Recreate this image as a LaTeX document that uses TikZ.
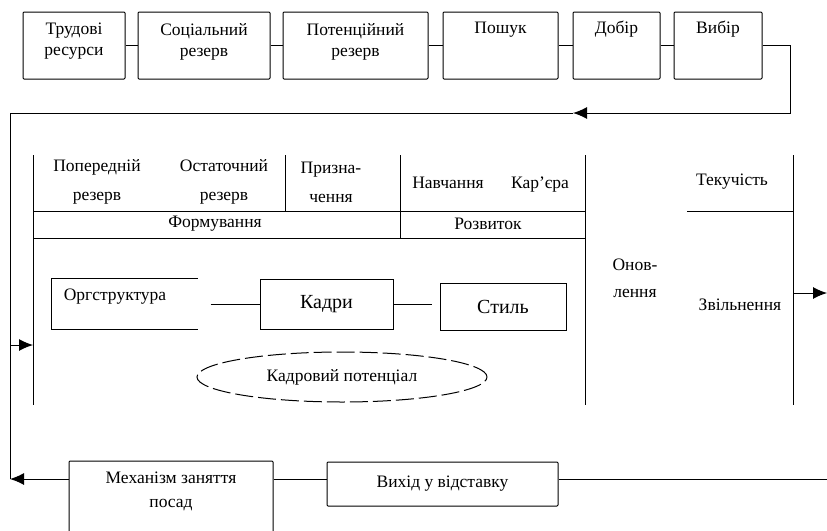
\documentclass[tikz,border=0pt]{standalone}
\usepackage{fontspec}
\setmainfont{Liberation Serif}
\usetikzlibrary{shapes.geometric,arrows.meta}

\begin{document}
\begin{tikzpicture}[x=1pt,y=-1pt,line width=1pt,
			box/.style={rectangle, draw, rounded corners=1pt, inner sep=2pt},
			lab/.style={inner sep=1pt, align=center, font=\fontsize{17.5}{21}\selectfont},
			cell/.style={inner sep=1pt, align=center, font=\fontsize{17.5}{29}\selectfont},
			big/.style={rectangle, draw, inner sep=2pt, font=\fontsize{20}{24}\selectfont},
			arr/.style={-{Latex[length=14pt,width=12pt]}}
				]
			\useasboundingbox (0,0) rectangle (827,530);
			\clip (0,0) rectangle (827,530);

			%top row
			\node[box, minimum width=102, minimum height=67] (trud) at (74,45.5) {};
			\node[box, minimum width=132, minimum height=67] (socr) at (204,45.5) {};
			\node[box, minimum width=145, minimum height=67] (potr) at (355.5,45.5) {};
			\node[box, minimum width=115, minimum height=67] (posh) at (500.5,45.5) {};
			\node[box, minimum width=87, minimum height=67] (dobir) at (616.5,45.5) {};
			\node[box, minimum width=88, minimum height=67] (vybir) at (718,45.5) {};

			\node[lab] (trudT) at ([yshift=4pt]trud.center) {Трудові\\ресурси};
			\node[lab] (socrT) at ([yshift=4pt]socr.center) {Соціальний\\резерв};
			\node[lab] (potrT) at ([yshift=4pt]potr.center) {Потенційний\\резерв};
			\node[lab] (poshT) at ([yshift=-18pt]posh.north) {Пошук};
			\node[lab] (dobirT) at ([yshift=-18pt]dobir.north) {Добір};
			\node[lab] (vybirT) at ([yshift=-18pt]vybir.north) {Вибір};

			\draw (trud) -- (socr);
			\draw (socr) -- (potr);
			\draw (potr) -- (posh);
			\draw (posh) -- (dobir);
			\draw (dobir) -- (vybir);

			\coordinate (cornerR) at (790,113);
			\coordinate (midT) at (573,113);
			\coordinate (cornerL) at (10,113);
			\coordinate (cornerB) at (10,479);
			\coordinate (inL) at (10,345);
			\coordinate (frameL) at (33,345);
			\coordinate (frameR) at (793,293);
			\coordinate (outR) at (827,293);
			\coordinate (inB) at (827,479);

			\draw[arr] (vybir.east) -| (cornerR) -- (midT);
			\draw (midT) -- (cornerL) -- (cornerB);
			\draw[arr] (inL) -- (frameL);
			\draw[arr] (frameR) -- (outR);

			%frame
			\draw (33,155) -- (33,405);
			\draw (285,155) -- (285,211);
			\draw (400,155) -- (400,238);
			\draw (585,155) -- (585,405);
			\draw (33,211) -- (585,211);
			\draw (33,238) -- (585,238);
			\draw (687,211) -- (793,211);
			\draw (793,155) -- (793,405);

			\node[cell] (poper) at (97,182) {Попередній\\резерв};
			\node[cell] (ostat) at (224,182) {Остаточний\\резерв};
			\node[cell] (pryzn) at (331,182) {Призна-\\чення};
			\node[lab, anchor=base] (navch) at (448,188) {Навчання};
			\node[lab, anchor=base] (karj) at (540,188) {Кар'єра};
			\node[lab] (form) at (215,224) {Формування};
			\node[lab] (rozv) at (488,224) {Розвиток};
			\node[cell,font=\fontsize{17.5}{27}\selectfont] (onovl) at (635,278) {Онов-\\лення};
			\node[lab] (tekuch) at (732,182) {Текучість};
			\node[lab] (zvil) at (740,305) {Звільнення};

			%inside
			\node[rectangle, minimum width=145, minimum height=50] (org) at (124.5,304) {};
			\draw (org.north east) -- (org.north west) -- (org.south west) -- (org.south east);
			\node[lab] (orgT) at (115,297) {Оргструктура};
			\node[big, minimum width=133, minimum height=50] (kadry) at (326.5,304) {Кадри};
			\node[big, minimum width=126, minimum height=47] (styl) at (503,306.5) {Стиль};
			\draw ([xshift=13pt]org.east) -- (kadry);
			\draw[shorten >=8pt] (kadry.east) -- (kadry.east -| styl.west);
			\node[ellipse, draw, dash pattern=on 18pt off 5pt, minimum width=290, minimum height=50, lab] (potenc) at (342,377) {Кадровий потенціал};

			%bottom
			\node[box, minimum width=204, minimum height=72] (meh) at (171,497) {};
			\node[lab, font=\fontsize{17.5}{24}\selectfont] (mehT) at (171,491) {Механізм заняття\\посад};
			\node[box, lab, inner sep=2pt, minimum width=231, minimum height=44] (vyh) at (442.5,484) {Вихід у відставку};
			\draw (inB) -- (inB -| vyh.east);
			\draw (inB -| vyh.west) -- (inB -| meh.east);
			\draw[arr] (inB -| meh.west) -- (cornerB);
\end{tikzpicture}
\end{document}
